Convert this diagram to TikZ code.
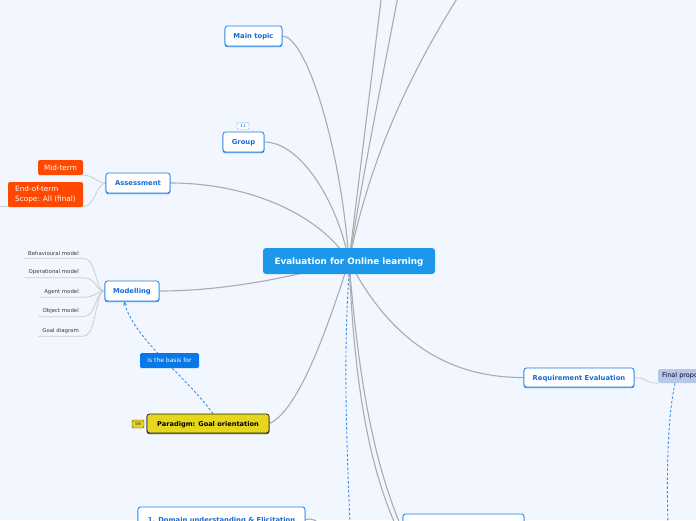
\documentclass[tikz,border=0pt]{standalone}
\usepackage{fontspec}
\setmainfont{DejaVu Sans}
\usetikzlibrary{arrows.meta}
\pgfdeclarelayer{back}
\pgfdeclarelayer{bg}
\pgfsetlayers{back,bg,main}
\definecolor{bgc}{RGB}{242,246,254}
\definecolor{cenc}{RGB}{29,151,233}
\definecolor{tb}{RGB}{30,125,230}
\definecolor{tt}{RGB}{22,105,215}
\definecolor{orc}{RGB}{255,72,0}
\definecolor{basc}{RGB}{8,120,232}
\definecolor{ylc}{RGB}{230,214,30}
\definecolor{fpc}{RGB}{182,200,228}
\definecolor{edgec}{RGB}{172,172,172}
\definecolor{ledgec}{RGB}{205,205,205}
\definecolor{dashc}{RGB}{60,140,230}
\definecolor{chc}{RGB}{60,60,60}
\newcommand\myfs[2]{\fontsize{#1}{#2}\selectfont}
\begin{document}
\begin{tikzpicture}[x=1pt,y=-1pt,
  ctr/.style={fill=cenc, rounded corners=3pt, minimum width=172pt, minimum height=26pt, text=white, font=\myfs{8.8}{10}\bfseries, inner sep=0pt, text depth=0pt},
  topic/.style={draw=tb, line width=0.8pt, fill=white, rounded corners=2.5pt, text=tt, font=\myfs{6.8}{8}\bfseries, inner sep=0pt, text depth=0pt,
     preaction={draw=tb, line width=0.8pt, transform canvas={yshift=-0.8pt}}},
  badge/.style={draw=tb!55, fill=white, rounded corners=1.5pt, minimum width=12pt, minimum height=7pt, font=\myfs{4.5}{5}, text=tt, inner sep=0pt},
  orbox/.style={fill=orc, rounded corners=1.5pt, text=white, font=\myfs{7.3}{10}, inner sep=0pt},
  child/.style={font=\myfs{5.4}{6}, text=chc, inner xsep=4pt, inner ysep=0pt, minimum height=10pt, anchor=east},
  basis/.style={fill=basc, rounded corners=1.5pt, text=white, font=\myfs{6}{7}, inner sep=0pt, minimum width=59pt, minimum height=15pt},
  para/.style={draw=black!85, line width=0.8pt, fill=ylc, rounded corners=2.5pt, text=black, font=\myfs{6.6}{8}\bfseries, inner sep=0pt, text depth=0pt,
     minimum width=122pt, minimum height=19pt, preaction={draw=black!85, line width=0.8pt, transform canvas={yshift=-0.8pt}}},
  ybadge/.style={draw=black!70!ylc, fill=ylc, rounded corners=1.5pt, minimum width=12pt, minimum height=8pt, font=\myfs{4.5}{5}, text=black!80, inner sep=0pt},
  fpbox/.style={fill=fpc, rounded corners=1.5pt, minimum height=14pt, inner xsep=4pt, inner ysep=0pt, text=black!80!blue, font=\myfs{6.5}{7}},
  edge/.style={draw=edgec, line width=1.1pt},
  ledge/.style={draw=ledgec, line width=0.8pt},
  dsh/.style={draw=dashc, line width=0.9pt, dash pattern=on 2.5pt off 2pt}
]
\useasboundingbox (0,0) rectangle (696,520);
\begin{pgfonlayer}{back}
\fill[bgc] (0,0) rectangle (696,520);
\end{pgfonlayer}

% nodes
\node[ctr] (cen) at (349,261) {Evaluation for Online learning};
\node[topic, minimum width=57pt, minimum height=20pt] (main) at (253.5,36) {Main topic};
\node[topic, minimum width=41pt, minimum height=20pt] (group) at (243.5,142) {Group};
\node[badge] (b11) at (243,126) {11};
\node[topic, minimum width=64pt, minimum height=20pt] (assess) at (138,183) {Assessment};
\node[orbox, minimum width=45pt, minimum height=15pt] (mid) at (60.5,167.5) {Mid-term};
\node[orbox, minimum width=75pt, minimum height=25pt, align=left] (eot) at (45.5,194.5) {End-of-term\\Scope: All (final)};
\coordinate (eotl) at (0,206.5);
\node[topic, minimum width=54pt, minimum height=20pt] (model) at (132,291) {Modelling};
\node[child] (c1) at (83,253) {Behavioural model};
\node[child] (c2) at (83,272.5) {Operational model};
\node[child] (c3) at (83,292) {Agent model};
\node[child] (c4) at (83,311.5) {Object model};
\node[child] (c5) at (83,331) {Goal diagram};
\node[basis] (basis) at (169.5,360.5) {is the basis for};
\node[para] (para) at (208,423.5) {Paradigm: Goal orientation};
\node[ybadge] (b58) at (138,424) {58};
\node[topic, minimum width=110pt, minimum height=19pt] (req) at (579,377.5) {Requirement Evaluation};
\node[fpbox, anchor=west] (final) at (658,376) {Final proposal};
\node[topic, minimum width=167pt, minimum height=25pt] (dom) at (221.5,519.5) {1. Domain understanding \& Elicitation};
\node[topic, minimum width=121pt, minimum height=25pt] (bot) at (463.5,526.5) {};

\coordinate (t1) at (381.4,-3);
\coordinate (t2) at (397.8,-3);
\coordinate (t3) at (458,-3);
\coordinate (bb1) at (395,524);
\coordinate (bb2) at (400,524);
\coordinate (domend) at (322,526);
\coordinate (dend) at (350,524);
\coordinate (fend) at (668,524);

\begin{pgfonlayer}{bg}
\draw[edge] (cen.center) .. controls (340,140) and (305,36) .. (main.east);
\draw[edge] (cen.center) .. controls (337,200) and (300,142) .. (group.east);
\draw[edge] (cen.center) .. controls (320,215) and (250,183) .. (assess.east);
\draw[edge] (cen.center) .. controls (300,275) and (230,291) .. (model.east);
\draw[edge] (cen.center) .. controls (330,320) and (300,410) .. (para.east);
\draw[edge] (cen.center) .. controls (380,320) and (430,378) .. (req.west);
\draw[edge] (cen.center) -- (t1);
\draw[edge] (cen.center) .. controls (362,180) and (380,90) .. (t2);
\draw[edge] (cen.center) .. controls (368,170) and (400,90) .. (t3);
\draw[edge] (cen.center) .. controls (355,400) and (372,470) .. (bb1);
\draw[edge] (cen.center) .. controls (360,400) and (378,470) .. (bb2);
\draw[edge] (dom.east) .. controls (312,518) and (316,520) .. (domend);
\draw[ledge] (req.east) .. controls (648,378) and (645,383) .. (final.south west);
\draw[ledge] (assess.west) .. controls (96,183) and (94,175) .. (mid.south east);
\draw[ledge] (assess.west) .. controls (96,184) and (95,206.5) .. ([yshift=0.5pt]eot.south east) -- (eotl);
\foreach \c in {c1,c2,c3,c4,c5}{
  \draw[ledge] (model.west) .. controls (95,291) and (97,0|-\c.south) .. (\c.south east) -- (\c.south west);
}
\draw[dsh] (cen.south) .. controls (343,360) and (347,450) .. (dend);
\draw[dsh] ([xshift=17pt]final.south west) .. controls (669,410) and (666,460) .. (fend);
\draw[dsh, -{Stealth[length=4pt,width=3.5pt]}] ([xshift=5pt]para.north) .. controls (185,375) and (135,340) .. ([xshift=-8pt]model.south);
\end{pgfonlayer}
\end{tikzpicture}
\end{document}
